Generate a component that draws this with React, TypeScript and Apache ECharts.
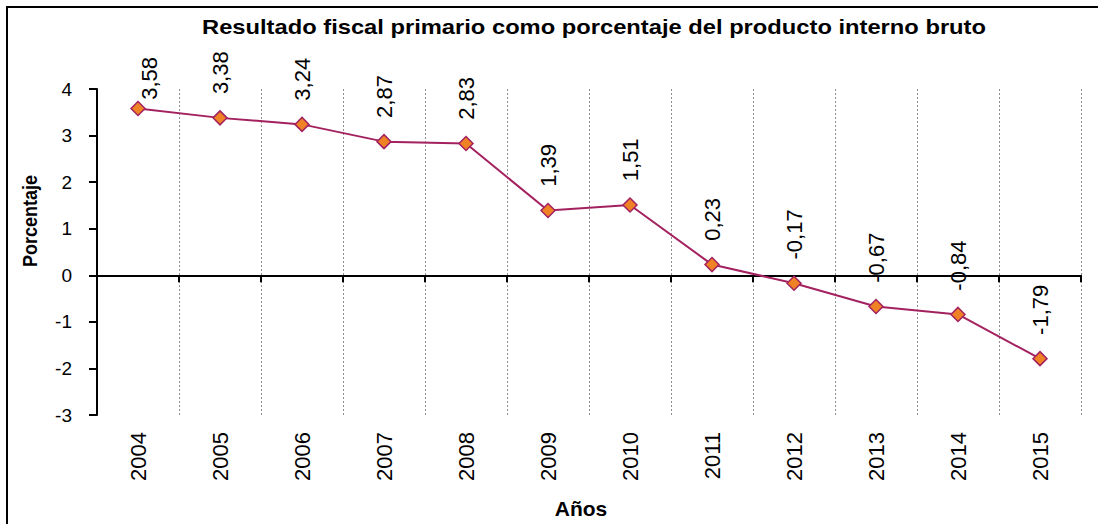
import React, { useEffect, useRef } from "react";
import * as echarts from "echarts";

const years = ["2004", "2005", "2006", "2007", "2008", "2009", "2010", "2011", "2012", "2013", "2014", "2015"];
const values = [3.58, 3.38, 3.24, 2.87, 2.83, 1.39, 1.51, 0.23, -0.17, -0.67, -0.84, -1.79];
const yTicks = { min: -3, max: 4, interval: 1 };

const titleText = "Resultado fiscal primario como porcentaje del producto interno bruto";
const xName = "Años";
const yName = "Porcentaje";

const FONT = "'Liberation Sans', Arial, sans-serif";
const LINE = "#A3215F";
const FILL = "#F08226";

export default function App() {
  const ref = useRef<HTMLDivElement>(null);
  useEffect(() => {
    document.body.style.margin = "0";
    const chart = echarts.init(ref.current!, null, { renderer: "svg" });
    const fmt = (v: number) => v.toFixed(2).replace(".", ",");
    chart.setOption({
      animation: false,
      backgroundColor: "#ffffff",
      textStyle: { fontFamily: FONT },
      grid: { left: 97, right: 17, top: 89, bottom: 109 },
      graphic: [
        {
          type: "rect",
          shape: { x: 7, y: 7, width: 1100, height: 530 },
          style: { fill: "none", stroke: "#000", lineWidth: 2 },
          silent: true,
        },
        {
          type: "text",
          x: 594,
          y: 27,
          scaleX: 1.13,
          style: {
            text: titleText,
            font: `bold 21px ${FONT}`,
            fill: "#000",
            align: "center",
            verticalAlign: "middle",
          },
        },
        {
          type: "text",
          x: 581,
          y: 508,
          style: {
            text: xName,
            font: `bold 21px ${FONT}`,
            fill: "#000",
            align: "center",
            verticalAlign: "middle",
          },
        },
        {
          type: "text",
          x: 30,
          y: 221,
          rotation: Math.PI / 2,
          scaleY: 1.15,
          style: {
            text: yName,
            font: `bold 18px ${FONT}`,
            fill: "#000",
            align: "center",
            verticalAlign: "middle",
          },
        },
      ],
      xAxis: [
        {
          type: "category",
          data: years,
          position: "bottom",
          boundaryGap: true,
          axisLine: { show: false, onZero: false },
          axisTick: { show: false },
          axisLabel: {
            rotate: 90,
            margin: 17,
            fontSize: 22,
            color: "#000",
            fontFamily: FONT,
            interval: 0,
          },
          splitLine: {
            show: true,
            interval: 0,
            lineStyle: { type: [2, 2], color: "#909090", width: 1 },
          },
        },
        {
          type: "category",
          data: years,
          position: "top",
          boundaryGap: true,
          axisLine: { show: true, onZero: true, lineStyle: { color: "#000", width: 2 } },
          axisTick: { show: true, inside: true, length: 7, interval: 0, lineStyle: { color: "#000", width: 2 } },
          axisLabel: { show: false },
          splitLine: { show: false },
        },
      ],
      yAxis: {
        type: "value",
        min: yTicks.min,
        max: yTicks.max,
        interval: yTicks.interval,
        axisLine: { show: true, lineStyle: { color: "#000", width: 2 } },
        axisTick: { show: true, length: 8, lineStyle: { color: "#000", width: 2 } },
        axisLabel: { margin: 25, fontSize: 19, color: "#000", fontFamily: FONT },
        splitLine: { show: false },
      },
      series: [
        {
          type: "line",
          xAxisIndex: 0,
          data: values.map((v, i) =>
            i === 0 ? { value: v, label: { offset: [-15, 11] } } : v
          ),
          symbol: "diamond",
          symbolSize: 14,
          lineStyle: { color: LINE, width: 2 },
          itemStyle: { color: FILL, borderColor: LINE, borderWidth: 1.5 },
          label: {
            show: true,
            position: "top",
            distance: 16,
            rotate: 90,
            align: "left",
            verticalAlign: "middle",
            fontSize: 22,
            color: "#000",
            fontFamily: FONT,
            formatter: (p: any) => fmt(Number(p.value)),
          },
        },
      ],
    });
    return () => chart.dispose();
  }, []);
  return <div ref={ref} style={{ position: "absolute", left: 0, top: 0, width: 1098, height: 524 }} />;
}
